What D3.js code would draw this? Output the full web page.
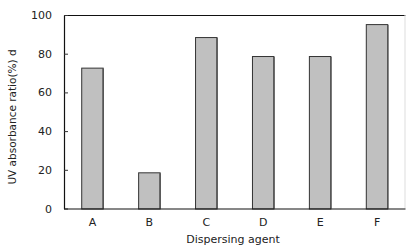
<!DOCTYPE html>
<html><head><meta charset="utf-8">
<script src="https://cdn.jsdelivr.net/npm/d3@7"></script>
<style>body{margin:0;background:#fff}svg{display:block}text{font-family:"DejaVu Sans",sans-serif;fill:#222}</style>
</head><body><svg id="c" width="406" height="246"></svg>
<script>
const categories = ["A","B","C","D","E","F"];
const values = [72.8, 18.7, 88.6, 78.8, 78.8, 95.3];
const yTicks = [0,20,40,60,80,100];
const xTitle = "Dispersing agent";
const yTitle = "UV absorbance ratio(%) d";

const svg = d3.select("#c");
const L=64, R=405.5, T=15, B=208.5;
const pi=0.605;
const x = d3.scaleBand().domain(categories).range([L,R]).paddingInner(pi).paddingOuter(pi/2);
const y = d3.scaleLinear().domain([0,100]).range([B,T]);

// frame
svg.append("line").attr("x1",L).attr("x2",R).attr("y1",T+0.5).attr("y2",T+0.5).attr("stroke","#111");
svg.append("line").attr("x1",R-0.5).attr("x2",R-0.5).attr("y1",T).attr("y2",B).attr("stroke","#ddd");

// bars
svg.append("g").selectAll("rect").data(values).join("rect")
  .attr("x",(d,i)=>x(categories[i])+0.5).attr("width",x.bandwidth()-1)
  .attr("y",d=>y(d)+0.5).attr("height",d=>B-y(d))
  .attr("fill","#c0c0c0").attr("stroke","#333").attr("stroke-width",1);
svg.append("g").selectAll("line").data(values).join("line")
  .attr("x1",(d,i)=>x(categories[i])+x.bandwidth()-0.5).attr("x2",(d,i)=>x(categories[i])+x.bandwidth()-0.5)
  .attr("y1",d=>y(d)+1).attr("y2",B).attr("stroke","#555").attr("stroke-width",1.5);

// y axis
const ya = svg.append("g").attr("transform",`translate(${L},0)`)
  .call(d3.axisLeft(y).tickValues(yTicks).tickSizeInner(-4).tickSizeOuter(0).tickPadding(12));
ya.select(".domain").attr("stroke","#111").attr("stroke-width",1.2);
ya.selectAll(".tick line").attr("stroke","#333");
ya.selectAll(".tick text").attr("font-size",11).attr("fill","#222").attr("font-family","DejaVu Sans, sans-serif");

// x axis
const xa = svg.append("g").attr("transform",`translate(0,${B})`)
  .call(d3.axisBottom(x).tickSize(0).tickPadding(10));
xa.select(".domain").attr("stroke","#111").attr("stroke-width",1.2).attr("d",`M${L},0.5H${R}`);
xa.selectAll(".tick text").attr("font-size",11).attr("fill","#222").attr("font-family","DejaVu Sans, sans-serif");

svg.append("text").attr("x",233).attr("y",242.5).attr("text-anchor","middle").attr("font-size",11).text(xTitle);
svg.append("text").attr("transform","translate(16,117) rotate(-90)").attr("text-anchor","middle").attr("font-size",10.5).text(yTitle);
</script></body></html>
